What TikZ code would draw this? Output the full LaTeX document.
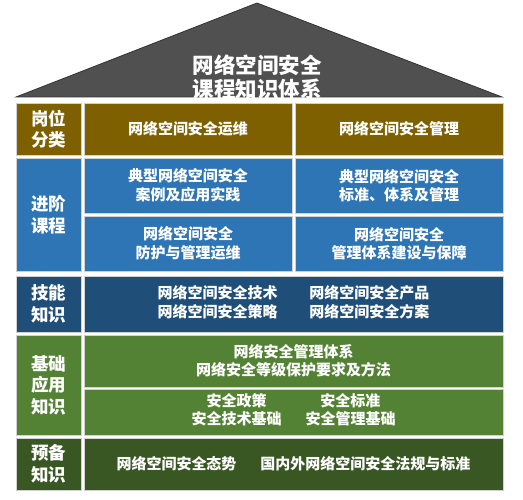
\documentclass[tikz,border=0pt]{standalone}
\usepackage{fontspec}
\newfontfamily\cjk{Noto Sans CJK SC}
\usepackage{tikz}
\definecolor{roofgray}{HTML}{505050}
\definecolor{roofedge}{HTML}{333333}
\definecolor{postgold}{HTML}{7F6000}
\definecolor{advblue}{HTML}{2E75B6}
\definecolor{skillnavy}{HTML}{1F4E79}
\definecolor{basegreen}{HTML}{548235}
\definecolor{prepgreen}{HTML}{385723}

\begin{document}
\begin{tikzpicture}[x=1pt,y=-1pt,
  cell/.style={draw=white!82!black, line width=0.8pt, text=white, align=center,
    inner sep=0pt, font=\cjk\bfseries\fontsize{15}{18.5}\selectfont},
  tag/.style={cell, minimum width=65pt, font=\cjk\bfseries\fontsize{17.5}{21.5}\selectfont},
  half/.style={cell, minimum width=208pt},
  wide/.style={cell, minimum width=419pt}]
  \useasboundingbox (0,0) rectangle (523,500);
  % roof
  \draw[fill=roofgray, draw=roofedge, line width=0.8pt] (16,97) -- (257,3) -- (502,97) -- cycle;
  \node[text=white, align=center, font=\cjk\bfseries\fontsize{21.5}{24}\selectfont] (title) at (257,77) {网络空间安全\\课程知识体系};
  % 岗位分类
  \node[tag, fill=postgold, minimum height=52pt] (tag1) at (48.5,129) {岗位\\分类};
  \node[half, fill=postgold, minimum height=52pt] (ops) at (188,129) {网络空间安全运维};
  \node[half, fill=postgold, minimum height=52pt] (mgmt) at (399,129) {网络空间安全管理};
  % 进阶课程
  \node[tag, fill=advblue, minimum height=113pt] (tag2) at (48.5,214.5) {进阶\\课程};
  \node[half, fill=advblue, minimum height=55pt] (case) at (188,185.5) {典型网络空间安全\\案例及应用实践};
  \node[half, fill=advblue, minimum height=55pt] (std) at (399,185.5) {典型网络空间安全\\标准、体系及管理};
  \node[half, fill=advblue, minimum height=55pt] (prot) at (188,243.5) {网络空间安全\\防护与管理运维};
  \node[half, fill=advblue, minimum height=55pt] (build) at (399,243.5) {网络空间安全\\管理体系建设与保障};
  % 技能知识
  \node[tag, fill=skillnavy, minimum height=56pt] (tag3) at (48.5,304) {技能\\知识};
  \node[wide, fill=skillnavy, minimum height=56pt] (skill) at (293.5,304)
    {\begin{tabular}{@{}c@{\hspace{32pt}}c@{}}网络空间安全技术 & 网络空间安全产品\\网络空间安全策略 & 网络空间安全方案\end{tabular}};
  % 基础应用知识
  \node[tag, fill=basegreen, minimum height=100pt] (tag4) at (48.5,385) {基础\\应用\\知识};
  \node[wide, fill=basegreen, minimum height=52pt] (system) at (293.5,361) {网络安全管理体系\\网络安全等级保护要求及方法};
  \node[wide, fill=basegreen, minimum height=46pt] (basics) at (293.5,412)
    {\begin{tabular}{@{}c@{\hspace{24pt}}c@{}}安全政策 & 安全标准\\安全技术基础 & 安全管理基础\end{tabular}};
  % 预备知识
  \node[tag, fill=prepgreen, minimum height=52pt] (tag5) at (48.5,464) {预备\\知识};
  \node[wide, fill=prepgreen, minimum height=52pt] (prep) at (293.5,464)
    {网络空间安全态势\hspace{24pt}国内外网络空间安全法规与标准};
\end{tikzpicture}
\end{document}
